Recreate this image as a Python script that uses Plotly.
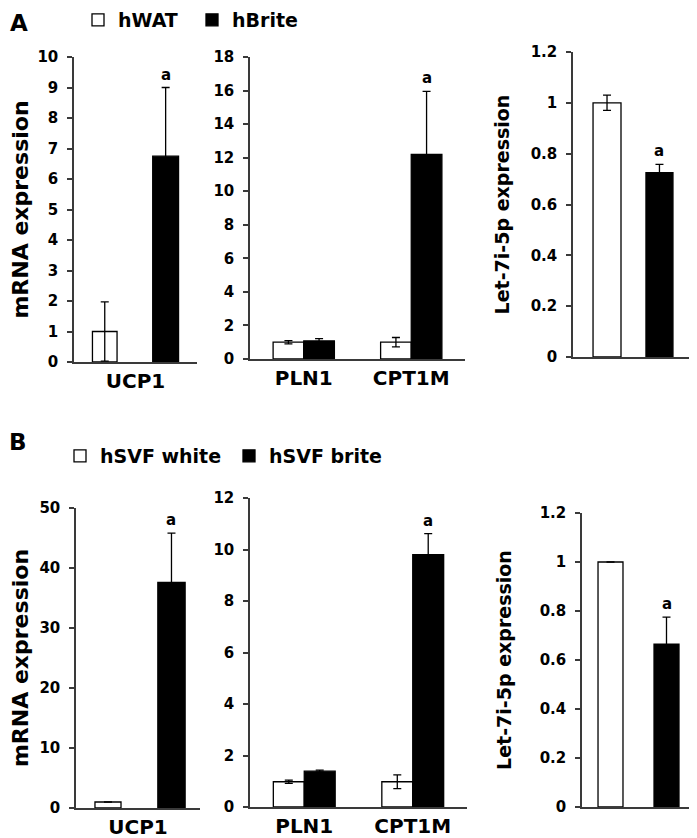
import plotly.graph_objects as go

W, H = 697, 838
OFF = 8  # page offset of the plot div (body margin)
FONT = "DejaVu Sans"

# ---------------- data ----------------
# Panel A
a_mrna1_genes = ["UCP1"]
a_mrna1_wat = [1.0]
a_mrna1_wat_err = [0.97]
a_mrna1_brite = [6.75]
a_mrna1_brite_err = [2.25]
a_mrna1_sig = ["a"]

a_mrna2_genes = ["PLN1", "CPT1M"]
a_mrna2_wat = [1.0, 1.0]
a_mrna2_wat_err = [0.1, 0.28]
a_mrna2_brite = [1.08, 12.2]
a_mrna2_brite_err = [0.13, 3.75]
a_mrna2_sig = ["", "a"]

a_let_cat = ["Let-7i-5p"]
a_let_wat = [1.0]
a_let_wat_err = [0.03]
a_let_brite = [0.725]
a_let_brite_err = [0.033]
a_let_sig = ["a"]

# Panel B
b_mrna1_genes = ["UCP1"]
b_mrna1_white = [1.0]
b_mrna1_white_err = [0.0]
b_mrna1_brite = [37.6]
b_mrna1_brite_err = [8.2]
b_mrna1_sig = ["a"]

b_mrna2_genes = ["PLN1", "CPT1M"]
b_mrna2_white = [0.98, 0.98]
b_mrna2_white_err = [0.06, 0.27]
b_mrna2_brite = [1.39, 9.8]
b_mrna2_brite_err = [0.04, 0.82]
b_mrna2_sig = ["", "a"]

b_let_cat = ["Let-7i-5p"]
b_let_white = [1.0]
b_let_white_err = [0.0]
b_let_brite = [0.665]
b_let_brite_err = [0.11]
b_let_sig = ["a"]

legend_a = ["hWAT", "hBrite"]
legend_b = ["hSVF white", "hSVF brite"]


def px(x):
    return (x - OFF) / W


def py(y):
    return 1 - (y - OFF) / H


# ---------------- layout geometry (screen pixels) ----------------
panels = [
    dict(cats=a_mrna1_genes, w=a_mrna1_wat, we=a_mrna1_wat_err, b=a_mrna1_brite, be=a_mrna1_brite_err,
         sig=a_mrna1_sig, xpx=(74, 197), ypx=(362, 57), yr=10, dt=1, wb=(-0.35, 0.20), bb=(0.14, 0.21),
         title="mRNA expression", tsize=22, so=18, names=legend_a, leg="legend", ticks=True),
    dict(cats=a_mrna2_genes, w=a_mrna2_wat, we=a_mrna2_wat_err, b=a_mrna2_brite, be=a_mrna2_brite_err,
         sig=a_mrna2_sig, xpx=(250, 465), ypx=(359, 57), yr=18, dt=2, wb=(-0.285, 0.285), bb=(0.0, 0.285),
         title=None, names=legend_a, leg="legend", ticks=True),
    dict(cats=a_let_cat, w=a_let_wat, we=a_let_wat_err, b=a_let_brite, be=a_let_brite_err,
         sig=a_let_sig, xpx=(573, 693), ypx=(357, 52), yr=1.2, dt=0.2, wb=(-0.333, 0.233), bb=(0.108, 0.225),
         title="Let-7i-5p expression", tsize=19, so=16, names=legend_a, leg="legend", ticks=False),
    dict(cats=b_mrna1_genes, w=b_mrna1_white, we=b_mrna1_white_err, b=b_mrna1_brite, be=b_mrna1_brite_err,
         sig=b_mrna1_sig, xpx=(76, 200), ypx=(808, 508), yr=50, dt=10, wb=(-0.347, 0.21), bb=(0.16, 0.22),
         title="mRNA expression", tsize=22, so=21, names=legend_b, leg="legend2", ticks=True),
    dict(cats=b_mrna2_genes, w=b_mrna2_white, we=b_mrna2_white_err, b=b_mrna2_brite, be=b_mrna2_brite_err,
         sig=b_mrna2_sig, xpx=(250, 467), ypx=(807, 498), yr=12, dt=2, wb=(-0.285, 0.285), bb=(0.0, 0.285),
         title=None, names=legend_b, leg="legend2", ticks=True),
    dict(cats=b_let_cat, w=b_let_white, we=b_let_white_err, b=b_let_brite, be=b_let_brite_err,
         sig=b_let_sig, xpx=(582, 694), ypx=(807, 513), yr=1.2, dt=0.2, wb=(-0.357, 0.223), bb=(0.143, 0.223),
         title="Let-7i-5p expression", tsize=19, so=23, names=legend_b, leg="legend2", ticks=False),
]

fig = go.Figure()
AX = "#3a3a3a"
annotations = []

for i, p in enumerate(panels):
    n = i + 1
    xa = "x" if n == 1 else f"x{n}"
    ya = "y" if n == 1 else f"y{n}"
    showleg = n in (1, 4)
    fig.add_trace(go.Bar(
        x=p["cats"], y=p["w"], xaxis=xa, yaxis=ya, name=p["names"][0],
        offset=p["wb"][0], width=p["wb"][1],
        marker=dict(color="white", line=dict(color="black", width=1.3)),
        error_y=dict(type="data", array=p["we"], color="black", thickness=1.3, width=4),
        showlegend=showleg, legend=p["leg"],
    ))
    fig.add_trace(go.Bar(
        x=p["cats"], y=p["b"], xaxis=xa, yaxis=ya, name=p["names"][1],
        offset=p["bb"][0], width=p["bb"][1],
        marker=dict(color="black", line=dict(color="black", width=1.3)),
        error_y=dict(type="data", array=p["be"], color="black", thickness=1.3, width=4),
        showlegend=showleg, legend=p["leg"],
    ))
    for k, s in enumerate(p["sig"]):
        if s:
            annotations.append(dict(
                x=k + p["bb"][0] + p["bb"][1] / 2, y=p["b"][k] + p["be"][k],
                xref=xa, yref=ya, text=s, showarrow=False, yanchor="bottom", yshift=2,
                font=dict(family=FONT, size=15, color="black", weight="bold"),
            ))
    x0, x1 = p["xpx"]
    yb, yt = p["ypx"]
    xkey = "xaxis" if n == 1 else f"xaxis{n}"
    ykey = "yaxis" if n == 1 else f"yaxis{n}"
    fig.update_layout(**{
        xkey: dict(domain=[px(x0), px(x1)], anchor=ya, range=[-0.5, len(p["cats"]) - 0.5],
                   type="category", showline=True, linecolor=AX, linewidth=1.5,
                   ticks="", showgrid=False, zeroline=False, showticklabels=p["ticks"],
                   tickfont=dict(family=FONT, size=20, color="black", weight="bold"),
                   fixedrange=True),
        ykey: dict(domain=[py(yb), py(yt)], anchor=xa, range=[0, p["yr"]],
                   dtick=p["dt"], tick0=0, showline=True, linecolor=AX, linewidth=1.5,
                   ticks="outside", ticklen=5, tickwidth=1.5, tickcolor=AX, ticklabelstandoff=6,
                   showgrid=False, zeroline=False,
                   tickfont=dict(family=FONT, size=15, color="black", weight="bold"),
                   title=dict(text=p["title"], standoff=p.get("so", 12),
                              font=dict(family=FONT, size=p.get("tsize", 20), color="black", weight="bold"))
                   if p["title"] else None,
                   fixedrange=True),
    })

annotations.append(dict(x=0, y=1, xref="paper", yref="paper", text="A", showarrow=False, borderpad=0,
                        xshift=1, yshift=-1,
                        xanchor="left", yanchor="top", font=dict(family=FONT, size=23, color="black", weight="bold")))
annotations.append(dict(x=0, y=1 - 426 / H, xref="paper", yref="paper", text="B", showarrow=False, borderpad=0,
                        xshift=0, yshift=6,
                        xanchor="left", yanchor="top", font=dict(family=FONT, size=23, color="black", weight="bold")))

legfont = dict(family=FONT, size=19, color="black", weight="bold")
fig.update_layout(
    width=W, height=H, margin=dict(l=0, r=0, t=0, b=0, autoexpand=False),
    paper_bgcolor="white", plot_bgcolor="white",
    annotations=annotations,
    legend=dict(orientation="h", x=70 / W, y=1 + 7 / H, xanchor="left", yanchor="top",
                font=legfont, itemwidth=30, entrywidth=69, bgcolor="rgba(0,0,0,0)", traceorder="normal"),
    legend2=dict(orientation="h", x=52 / W, y=1 - 429 / H, xanchor="left", yanchor="top",
                 font=legfont, itemwidth=30, entrywidth=124, bgcolor="rgba(0,0,0,0)", traceorder="normal"),
)

fig.write_html("out.html")
